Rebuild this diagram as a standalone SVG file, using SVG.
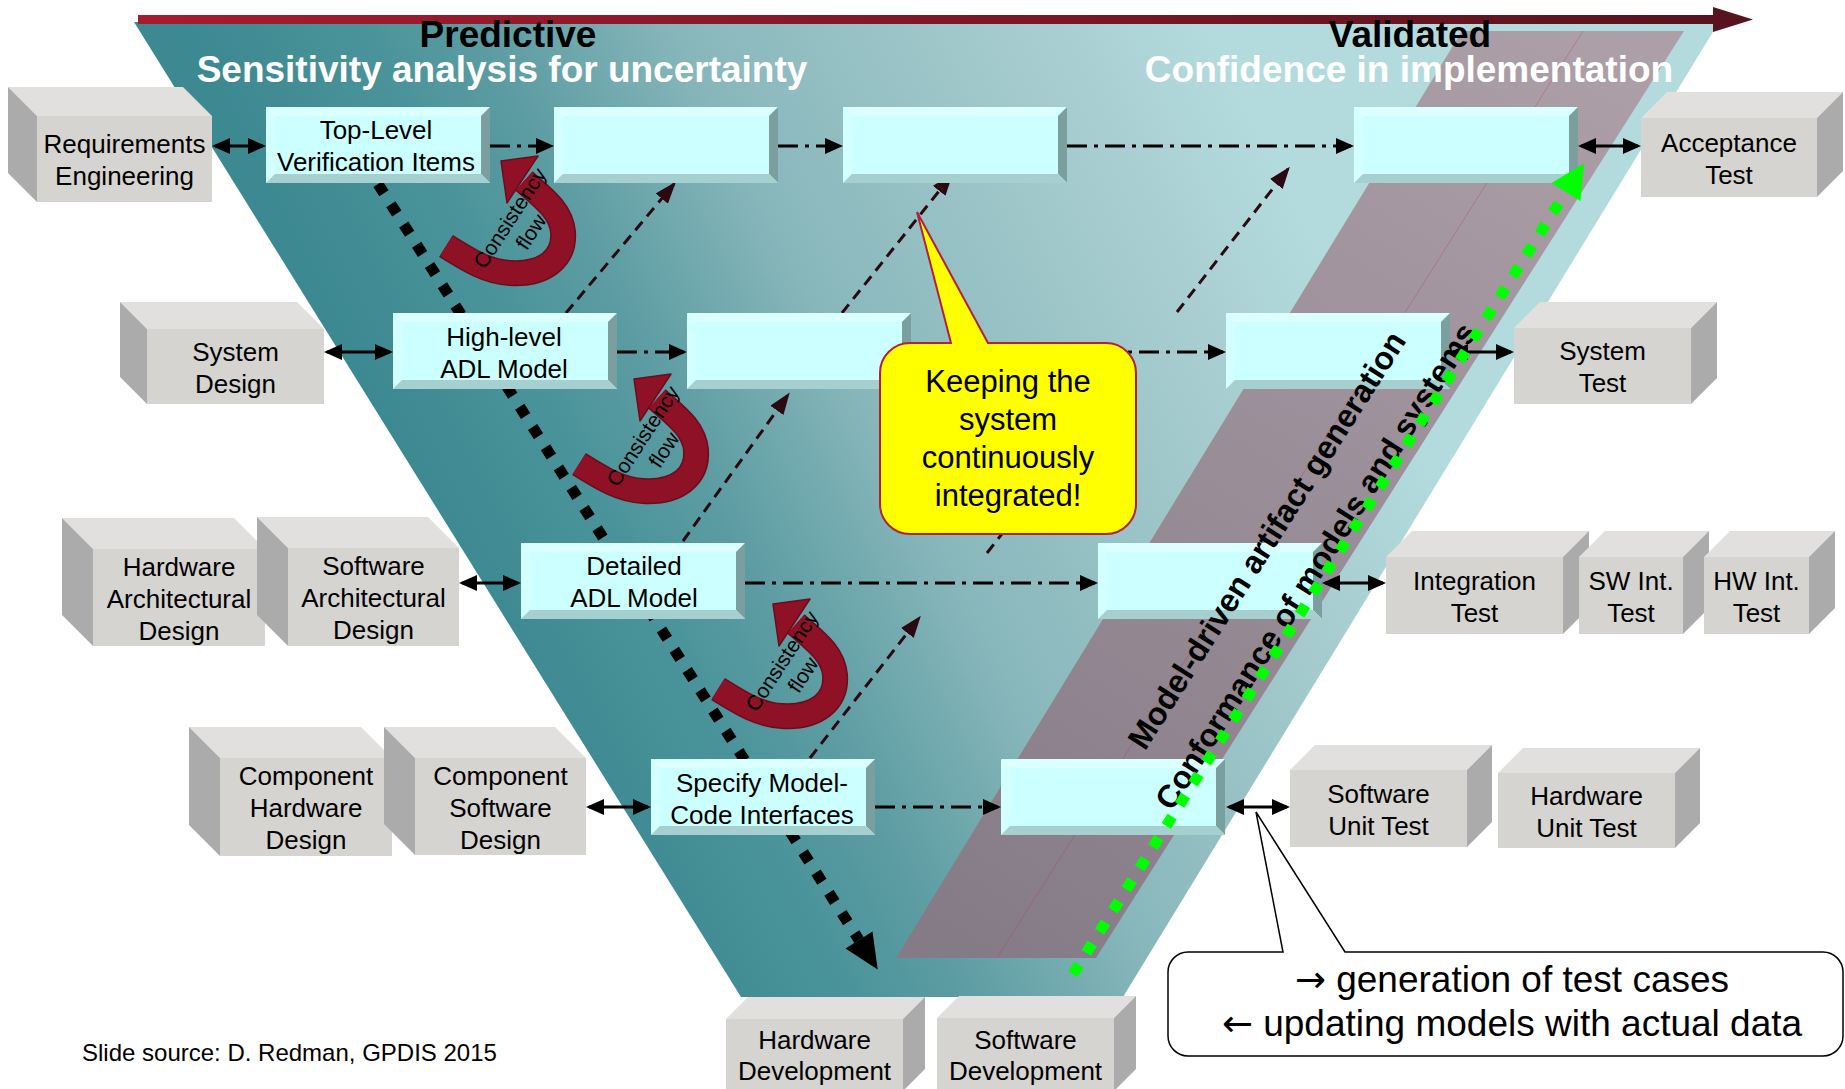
<svg xmlns="http://www.w3.org/2000/svg" width="1845" height="1089" viewBox="0 0 1845 1089">
<defs>
<style>
text{font-family:'Liberation Sans',Arial,Helvetica,sans-serif;fill:#000}
.lbl{font-size:26px;text-anchor:middle}
.ttl{font-size:37px;font-weight:bold;text-anchor:middle}
.wht{fill:#fff}
.cf{fill:#d5d4d1}.ct{fill:#e1e0de}.cs{fill:#ababab}
.dd{fill:none;stroke:#000;stroke-width:3;stroke-dasharray:20 7 4 7}
.dbl{fill:none;stroke:#000;stroke-width:3}
.md{fill:none;stroke:#2b0911;stroke-width:3;stroke-dasharray:11 7}
.cft{font-size:21px;text-anchor:middle}
.rot{font-size:32px;font-weight:bold;text-anchor:middle}
.arw{font-family:'DejaVu Sans',sans-serif}
</style>
<linearGradient id="vGrad" gradientUnits="userSpaceOnUse" x1="300" y1="250" x2="1120" y2="-160">
<stop offset="0" stop-color="#3d8991"/>
<stop offset="0.17" stop-color="#4a939a"/>
<stop offset="0.29" stop-color="#5d9da3"/>
<stop offset="0.48" stop-color="#88b7bb"/>
<stop offset="0.83" stop-color="#a8cdd0"/>
<stop offset="1" stop-color="#b3dbde"/>
</linearGradient>
<linearGradient id="pGrad" gradientUnits="userSpaceOnUse" x1="1580" y1="30" x2="980" y2="960">
<stop offset="0" stop-color="#ad9fa8"/>
<stop offset="1" stop-color="#857b86"/>
</linearGradient>
<linearGradient id="rGrad" gradientUnits="userSpaceOnUse" x1="138" y1="0" x2="1753" y2="0">
<stop offset="0" stop-color="#a61c2f"/>
<stop offset="1" stop-color="#57131e"/>
</linearGradient>
<marker id="ah" viewBox="0 0 18 16" refX="15" refY="8" markerWidth="18" markerHeight="16" markerUnits="userSpaceOnUse" orient="auto-start-reverse">
<path d="M0,0 L18,8 L0,16 z" fill="#000"/>
</marker>
<marker id="ahm" viewBox="0 0 22 16" refX="19" refY="8" markerWidth="22" markerHeight="16" markerUnits="userSpaceOnUse" orient="auto">
<path d="M0,0 L22,8 L0,16 z" fill="#2b0911"/>
</marker>
<!-- bevelled model box, 224 x 76 -->
<g id="bevelBox">
<rect width="224" height="76" fill="#ccffff"/>
<polygon points="0,0 224,0 215,9 9,9" fill="#dcffff"/>
<polygon points="0,0 9,9 9,67 0,76" fill="#d4ffff"/>
<polygon points="224,0 224,76 215,67 215,9" fill="#7b9e9e"/>
<polygon points="0,76 224,76 215,67 9,67" fill="#a6cfcf"/>
</g>
<!-- curved "consistency flow" arrow -->
<g id="cflowShape">
<path d="M446,246 C470,261 488,272 510,273 C545,275 565,258 563,232 C561,210 542,197 524,181" fill="none" stroke="#6e0b1b" stroke-width="26"/>
<polygon points="501,161 538,156 507,203" fill="#8e1126" stroke="#6e0b1b" stroke-width="1.5" stroke-linejoin="round"/>
<path d="M446,246 C470,261 488,272 510,273 C545,275 565,258 563,232 C561,210 542,197 524,181" fill="none" stroke="#8e1126" stroke-width="23"/>
<text class="cft" transform="translate(516,222) rotate(-57)"><tspan x="0" y="0">Consistency</tspan><tspan x="0" y="25">flow</tspan></text>
</g>
</defs>

<rect width="1845" height="1089" fill="#fff"/>

<!-- V-model background -->
<g id="background">
<polygon points="134,22 1719,22 1123,997 741,997" fill="url(#vGrad)"/>
<polygon points="1462,31 1684,31 1096,958 896,958" fill="url(#pGrad)"/>
<line x1="1583" y1="31" x2="997" y2="958" stroke="#b04060" stroke-opacity="0.35" stroke-width="1"/>
<polygon points="138,15 1713,15 1713,7 1753,19.5 1713,32 1713,24 138,24" fill="url(#rGrad)"/>
<text class="ttl" x="508" y="47">Predictive</text>
<text class="ttl wht" x="502" y="82">Sensitivity analysis for uncertainty</text>
<text class="ttl" x="1410" y="47">Validated</text>
<text class="ttl wht" x="1409" y="82">Confidence in implementation</text>
</g>

<!-- connectors -->
<g id="connectors">
<!-- refinement path -->
<line x1="378" y1="184" x2="859" y2="940" stroke="#000" stroke-width="11" stroke-dasharray="11 13"/>
<polygon points="877.7,969.6 872.5,931.4 845.5,948.6" fill="#000"/>
<!-- integration paths -->
<path class="md" d="M566,313 L674,184" marker-end="url(#ahm)"/>
<path class="md" d="M842,313 L951,176" marker-end="url(#ahm)"/>
<path class="md" d="M1177,312 L1288,169" marker-end="url(#ahm)"/>
<path class="md" d="M683,541 L788,395" marker-end="url(#ahm)"/>
<path class="md" d="M987,553 L1110,395"/>
<path class="md" d="M810,758 L919,618" marker-end="url(#ahm)"/>
<!-- row 1 -->
<path class="dbl" d="M215,146 H263" marker-start="url(#ah)" marker-end="url(#ah)"/>
<path class="dd" d="M490,146 H551" marker-end="url(#ah)"/>
<path class="dd" d="M778,146 H840" marker-end="url(#ah)"/>
<path class="dd" d="M1067,146 H1351" marker-end="url(#ah)"/>
<path class="dbl" d="M1581,146 H1638" marker-start="url(#ah)" marker-end="url(#ah)"/>
<!-- row 2 -->
<path class="dbl" d="M327,352 H390" marker-start="url(#ah)" marker-end="url(#ah)"/>
<path class="dd" d="M617,352 H684" marker-end="url(#ah)"/>
<path class="dd" d="M911,352 H1223" marker-end="url(#ah)"/>
<path class="dbl" d="M1453,352 H1511" marker-start="url(#ah)" marker-end="url(#ah)"/>
<!-- row 3 -->
<path class="dbl" d="M462,583 H518" marker-start="url(#ah)" marker-end="url(#ah)"/>
<path class="dd" d="M745,583 H1095" marker-end="url(#ah)"/>
<path class="dbl" d="M1325,583 H1383" marker-start="url(#ah)" marker-end="url(#ah)"/>
<!-- row 4 -->
<path class="dbl" d="M589,807 H648" marker-start="url(#ah)" marker-end="url(#ah)"/>
<path class="dd" d="M875,807 H998" marker-end="url(#ah)"/>
<path class="dbl" d="M1229,807 H1287" marker-start="url(#ah)" marker-end="url(#ah)"/>
</g>

<!-- model boxes -->
<g id="n-toplevel"><use href="#bevelBox" x="266" y="107"/><text class="lbl"><tspan x="376" y="139">Top-Level</tspan><tspan x="376" y="171">Verification Items</tspan></text></g>
<g id="n-r1b2"><use href="#bevelBox" x="554" y="107"/></g>
<g id="n-r1b3"><use href="#bevelBox" x="843" y="107"/></g>
<g id="n-r1b4"><use href="#bevelBox" x="1354" y="107"/></g>
<g id="n-highlevel"><use href="#bevelBox" x="393" y="313"/><text class="lbl"><tspan x="504" y="346">High-level</tspan><tspan x="504" y="378">ADL Model</tspan></text></g>
<g id="n-r2b2"><use href="#bevelBox" x="687" y="313"/></g>
<g id="n-r2b3"><use href="#bevelBox" x="1226" y="313"/></g>
<g id="n-detailed"><use href="#bevelBox" x="521" y="543"/><text class="lbl"><tspan x="634" y="575">Detailed</tspan><tspan x="634" y="607">ADL Model</tspan></text></g>
<g id="n-r3b2"><use href="#bevelBox" x="1098" y="543"/></g>
<g id="n-specify"><use href="#bevelBox" x="651" y="759"/><text class="lbl"><tspan x="762" y="792">Specify Model-</tspan><tspan x="762" y="824">Code Interfaces</tspan></text></g>
<g id="n-r4b2"><use href="#bevelBox" x="1001" y="759"/></g>

<!-- consistency flows -->
<g id="consistency-flows">
<use href="#cflowShape"/>
<use href="#cflowShape" transform="translate(133,218)"/>
<use href="#cflowShape" transform="translate(272,443)"/>
</g>

<!-- integration note -->
<g id="callout-integrated">
<path d="M910,343 H951 L917,212 L988,343 H1106 A30,30 0 0 1 1136,373 V504 A30,30 0 0 1 1106,534 H910 A30,30 0 0 1 880,504 V373 A30,30 0 0 1 910,343 Z" fill="#ffff00" stroke="#b3203e" stroke-width="2"/>
<text font-size="31" text-anchor="middle"><tspan x="1008" y="392">Keeping the</tspan><tspan x="1008" y="430">system</tspan><tspan x="1008" y="468">continuously</tspan><tspan x="1008" y="506">integrated!</tspan></text>
</g>

<!-- band labels -->
<g id="band-labels">
<text class="rot" transform="translate(1276,546) rotate(-57.5)">Model-driven artifact generation</text>
<text class="rot" transform="translate(1325,572) rotate(-57.5)">Conformance of models and systems</text>
</g>

<!-- conformance path -->
<g id="conformance-arrow">
<line x1="1073" y1="974" x2="1566" y2="192" stroke="#00ff00" stroke-width="11" stroke-dasharray="11 14"/>
<polygon points="1584.1,163.2 1580.4,201.1 1551.6,182.9" fill="#00ff00"/>
</g>

<!-- design activities -->
<g id="n-reqeng"><polygon class="ct" points="8,87 183,87 212,116 37,116"/><polygon class="cs" points="8,87 37,116 37,202 8,173"/><rect class="cf" x="37" y="116" width="175" height="86"/><text class="lbl"><tspan x="124.5" y="153">Requirements</tspan><tspan x="124.5" y="185">Engineering</tspan></text></g>
<g id="n-sysdesign"><polygon class="ct" points="120,302 297,302 324,329 147,329"/><polygon class="cs" points="120,302 147,329 147,404 120,377"/><rect class="cf" x="147" y="329" width="177" height="75"/><text class="lbl"><tspan x="235.5" y="360.5">System</tspan><tspan x="235.5" y="392.5">Design</tspan></text></g>
<g id="n-hwarch"><polygon class="ct" points="62,518 234,518 265,549 93,549"/><polygon class="cs" points="62,518 93,549 93,646 62,615"/><rect class="cf" x="93" y="549" width="172" height="97"/><text class="lbl"><tspan x="179" y="575.5">Hardware</tspan><tspan x="179" y="607.5">Architectural</tspan><tspan x="179" y="639.5">Design</tspan></text></g>
<g id="n-swarch"><polygon class="ct" points="257,517 428,517 459,548 288,548"/><polygon class="cs" points="257,517 288,548 288,646 257,615"/><rect class="cf" x="288" y="548" width="171" height="98"/><text class="lbl"><tspan x="373.5" y="575">Software</tspan><tspan x="373.5" y="607">Architectural</tspan><tspan x="373.5" y="639">Design</tspan></text></g>
<g id="n-comphw"><polygon class="ct" points="189,727 361,727 392,758 220,758"/><polygon class="cs" points="189,727 220,758 220,856 189,825"/><rect class="cf" x="220" y="758" width="172" height="98"/><text class="lbl"><tspan x="306" y="785">Component</tspan><tspan x="306" y="817">Hardware</tspan><tspan x="306" y="849">Design</tspan></text></g>
<g id="n-compsw"><polygon class="ct" points="384,727 555,727 586,758 415,758"/><polygon class="cs" points="384,727 415,758 415,855 384,824"/><rect class="cf" x="415" y="758" width="171" height="97"/><text class="lbl"><tspan x="500.5" y="784.5">Component</tspan><tspan x="500.5" y="816.5">Software</tspan><tspan x="500.5" y="848.5">Design</tspan></text></g>

<!-- implementation -->
<g id="n-hwdev"><polygon class="ct" points="726,1019 748,997 925,997 903,1019"/><polygon class="cs" points="903,1019 925,997 925,1069 903,1091"/><rect class="cf" x="726" y="1019" width="177" height="72"/><text class="lbl"><tspan x="814.5" y="1049">Hardware</tspan><tspan x="814.5" y="1080">Development</tspan></text></g>
<g id="n-swdev"><polygon class="ct" points="937,1018 959,996 1136,996 1114,1018"/><polygon class="cs" points="1114,1018 1136,996 1136,1069 1114,1091"/><rect class="cf" x="937" y="1018" width="177" height="73"/><text class="lbl"><tspan x="1025.5" y="1049">Software</tspan><tspan x="1025.5" y="1080">Development</tspan></text></g>

<!-- test activities -->
<g id="n-accept"><polygon class="ct" points="1641,118 1667,92 1843,92 1817,118"/><polygon class="cs" points="1817,118 1843,92 1843,171 1817,197"/><rect class="cf" x="1641" y="118" width="176" height="79"/><text class="lbl"><tspan x="1729" y="151.5">Acceptance</tspan><tspan x="1729" y="183.5">Test</tspan></text></g>
<g id="n-systest"><polygon class="ct" points="1514,328 1540,302 1717,302 1691,328"/><polygon class="cs" points="1691,328 1717,302 1717,378 1691,404"/><rect class="cf" x="1514" y="328" width="177" height="76"/><text class="lbl"><tspan x="1602.5" y="360">System</tspan><tspan x="1602.5" y="392">Test</tspan></text></g>
<g id="n-inttest"><polygon class="ct" points="1386,557 1412,531 1589,531 1563,557"/><polygon class="cs" points="1563,557 1589,531 1589,608 1563,634"/><rect class="cf" x="1386" y="557" width="177" height="77"/><text class="lbl"><tspan x="1474.5" y="589.5">Integration</tspan><tspan x="1474.5" y="621.5">Test</tspan></text></g>
<g id="n-swint"><polygon class="ct" points="1579,557 1605,531 1709,531 1683,557"/><polygon class="cs" points="1683,557 1709,531 1709,608 1683,634"/><rect class="cf" x="1579" y="557" width="104" height="77"/><text class="lbl"><tspan x="1631" y="589.5">SW Int.</tspan><tspan x="1631" y="621.5">Test</tspan></text></g>
<g id="n-hwint"><polygon class="ct" points="1704,557 1730,531 1835,531 1809,557"/><polygon class="cs" points="1809,557 1835,531 1835,608 1809,634"/><rect class="cf" x="1704" y="557" width="105" height="77"/><text class="lbl"><tspan x="1756.5" y="589.5">HW Int.</tspan><tspan x="1756.5" y="621.5">Test</tspan></text></g>
<g id="n-swunit"><polygon class="ct" points="1290,770 1315,745 1492,745 1467,770"/><polygon class="cs" points="1467,770 1492,745 1492,822 1467,847"/><rect class="cf" x="1290" y="770" width="177" height="77"/><text class="lbl"><tspan x="1378.5" y="802.5">Software</tspan><tspan x="1378.5" y="834.5">Unit Test</tspan></text></g>
<g id="n-hwunit"><polygon class="ct" points="1498,773 1523,748 1700,748 1675,773"/><polygon class="cs" points="1675,773 1700,748 1700,823 1675,848"/><rect class="cf" x="1498" y="773" width="177" height="75"/><text class="lbl"><tspan x="1586.5" y="804.5">Hardware</tspan><tspan x="1586.5" y="836.5">Unit Test</tspan></text></g>

<!-- test generation note -->
<g id="callout-testgen">
<path d="M1188,952 H1283 L1256,812 L1345,952 H1823 A20,20 0 0 1 1843,972 V1036 A20,20 0 0 1 1823,1056 H1188 A20,20 0 0 1 1168,1036 V972 A20,20 0 0 1 1188,952 Z" fill="#fff" stroke="#000" stroke-width="1.5"/>
<text font-size="37" text-anchor="middle"><tspan x="1512" y="992"><tspan class="arw">→</tspan> generation of test cases</tspan><tspan x="1512" y="1036"><tspan class="arw">←</tspan> updating models with actual data</tspan></text>
</g>

<text x="82" y="1061" font-size="24">Slide source: D. Redman, GPDIS 2015</text>
</svg>
